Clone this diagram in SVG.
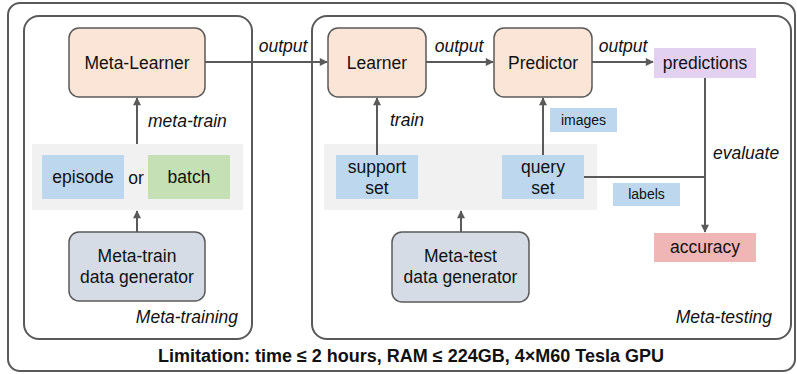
<svg xmlns="http://www.w3.org/2000/svg" width="797" height="374" viewBox="0 0 797 374">
<style>
text{font-family:"Liberation Sans",Arial,Helvetica,sans-serif;fill:#111;}
.lbl{font-size:17.5px;text-anchor:middle;}
.it{font-size:17.5px;font-style:italic;}
.sm{font-size:14px;text-anchor:middle;}
.frame{fill:#fff;stroke:#5a5a5a;stroke-width:2;}
.node{stroke:#5a5a5a;stroke-width:1.5;}
.peach{fill:#fae5d7;}
.slate{fill:#d6dce5;}
.blue{fill:#bdd7ee;}
.green{fill:#c5e0b4;}
.lav{fill:#e3d1f2;}
.pink{fill:#f0b6b6;}
.bg{fill:#f1f1f1;}
.edge{fill:none;stroke:#5a5a5a;stroke-width:2;}
</style>
<defs>
<marker id="ah" viewBox="0 0 10 10" refX="9" refY="5" markerWidth="9" markerHeight="8" markerUnits="userSpaceOnUse" orient="auto">
<path d="M0,0 L10,5 L0,10 z" fill="#5a5a5a"/>
</marker>
</defs>
<g id="outer">
<rect class="frame" x="8" y="3" width="787" height="368" rx="12"/>
<text x="411" y="362" text-anchor="middle" font-size="18" font-weight="bold">Limitation: time ≤ 2 hours, RAM ≤ 224GB, 4×M60 Tesla GPU</text>
</g>
<g id="meta-training">
<rect class="frame" x="24" y="16" width="228" height="323" rx="15"/>
<rect class="bg" x="32" y="144" width="211" height="66"/>
<text class="it" x="238" y="323" text-anchor="end">Meta-training</text>
</g>
<g id="meta-testing">
<rect class="frame" x="312" y="16" width="479" height="323" rx="15"/>
<rect class="bg" x="324" y="144" width="273" height="66"/>
<text class="it" x="772" y="323" text-anchor="end">Meta-testing</text>
</g>
<g id="connectors">
<path class="edge" d="M205,62 H327" marker-end="url(#ah)"/>
<path class="edge" d="M426,62 H493" marker-end="url(#ah)"/>
<path class="edge" d="M592,62 H653" marker-end="url(#ah)"/>
<path class="edge" d="M137,144 V98" marker-end="url(#ah)"/>
<path class="edge" d="M137,232 V211" marker-end="url(#ah)"/>
<path class="edge" d="M377,155 V98" marker-end="url(#ah)"/>
<path class="edge" d="M543,155 V98" marker-end="url(#ah)"/>
<path class="edge" d="M461,232 V211" marker-end="url(#ah)"/>
<path class="edge" d="M705,78 V232" marker-end="url(#ah)"/>
<path class="edge" d="M584,177 H705"/>
<text class="it" x="283" y="52" text-anchor="middle">output</text>
<text class="it" x="459" y="52" text-anchor="middle">output</text>
<text class="it" x="623" y="52" text-anchor="middle">output</text>
<text class="it" x="148" y="127">meta-train</text>
<text class="it" x="390" y="126">train</text>
<text class="it" x="713" y="159">evaluate</text>
<rect class="blue" x="550" y="108" width="67" height="24"/>
<text class="sm" x="583.5" y="125">images</text>
<rect class="blue" x="613" y="183" width="67" height="23"/>
<text class="sm" x="646.5" y="199">labels</text>
</g>
<g id="meta-learner">
<rect class="node peach" x="69" y="28" width="136" height="69" rx="10"/>
<text class="lbl" x="137" y="68.5">Meta-Learner</text>
</g>
<g id="learner">
<rect class="node peach" x="328" y="28" width="98" height="69" rx="10"/>
<text class="lbl" x="377" y="68.5">Learner</text>
</g>
<g id="predictor">
<rect class="node peach" x="494" y="28" width="98" height="69" rx="10"/>
<text class="lbl" x="543" y="68.5">Predictor</text>
</g>
<g id="predictions">
<rect class="lav" x="654" y="48" width="102" height="30"/>
<text class="lbl" x="705" y="69">predictions</text>
</g>
<g id="accuracy">
<rect class="pink" x="654" y="233" width="102" height="29"/>
<text class="lbl" x="705" y="253">accuracy</text>
</g>
<g id="episode">
<rect class="blue" x="42" y="155" width="82" height="44"/>
<text class="lbl" x="83" y="183">episode</text>
</g>
<text class="lbl" x="136" y="184">or</text>
<g id="batch">
<rect class="green" x="148" y="155" width="82" height="44"/>
<text class="lbl" x="189" y="183">batch</text>
</g>
<g id="support-set">
<rect class="blue" x="336" y="155" width="82" height="44"/>
<text class="lbl" x="377" y="173">support</text>
<text class="lbl" x="377" y="194">set</text>
</g>
<g id="query-set">
<rect class="blue" x="502" y="155" width="82" height="44"/>
<text class="lbl" x="543" y="173">query</text>
<text class="lbl" x="543" y="194">set</text>
</g>
<g id="meta-train-gen">
<rect class="node slate" x="69" y="232" width="136" height="69" rx="10"/>
<text class="lbl" x="137" y="262">Meta-train</text>
<text class="lbl" x="137" y="283">data generator</text>
</g>
<g id="meta-test-gen">
<rect class="node slate" x="392" y="232" width="137" height="70" rx="10"/>
<text class="lbl" x="460.5" y="262">Meta-test</text>
<text class="lbl" x="460.5" y="283">data generator</text>
</g>
</svg>
